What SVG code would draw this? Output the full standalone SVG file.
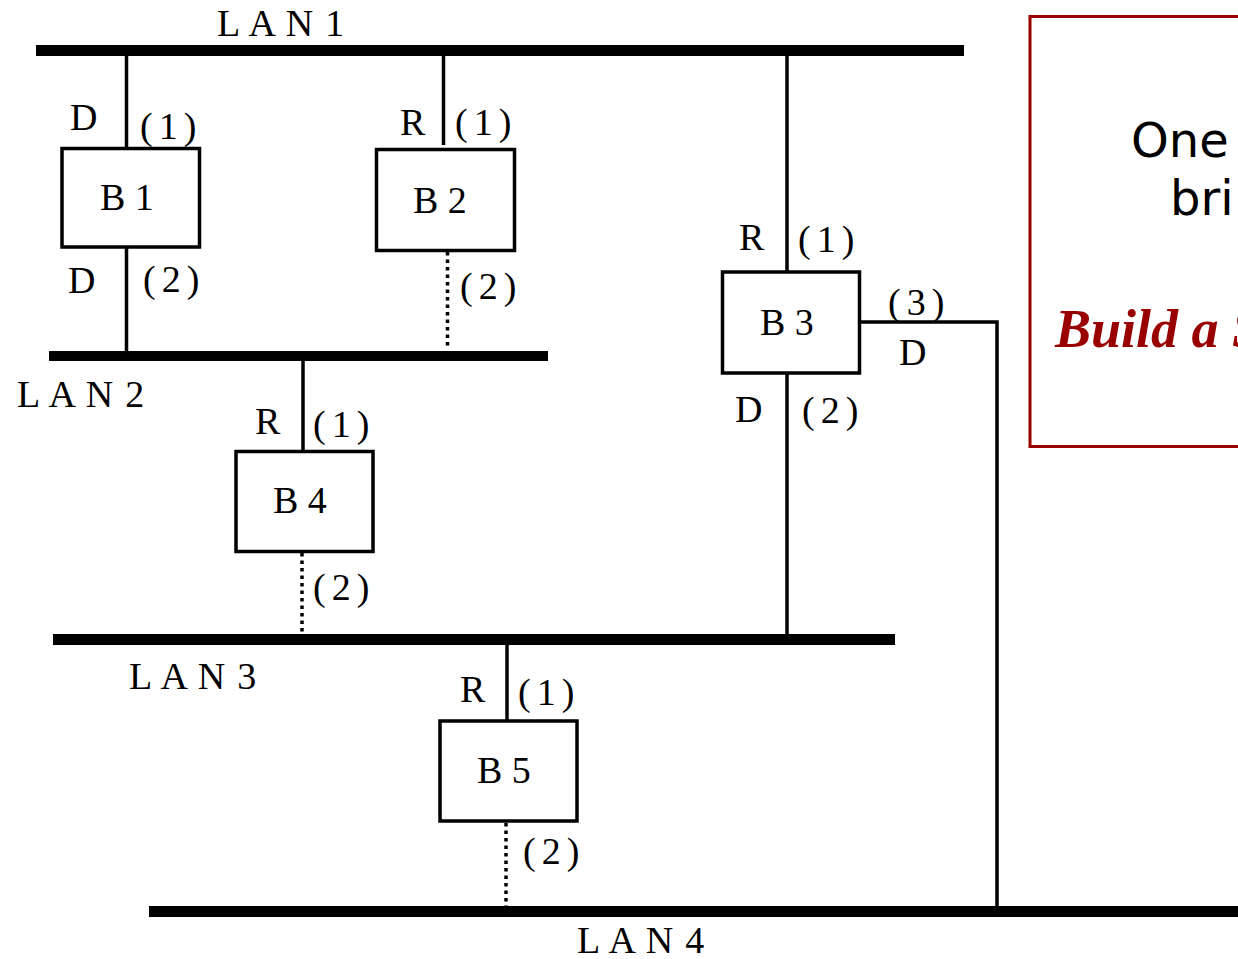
<svg xmlns="http://www.w3.org/2000/svg" width="1238" height="959" viewBox="0 0 1238 959">
<style>
.lan{fill:#000}
.box{fill:#fff;stroke:#000;stroke-width:3.5}
.ln{stroke:#000;stroke-width:3.5;fill:none}
.dot{stroke:#000;stroke-width:3.5;fill:none;stroke-dasharray:3.5 4}
.t{font-family:"Liberation Serif","Times New Roman",serif;font-size:38px;fill:#000}
.lt{font-family:"Liberation Serif","Times New Roman",serif;font-size:38px;fill:#000;letter-spacing:1.2px}
.p{font-family:"Liberation Serif","Times New Roman",serif;font-size:38px;fill:#000;letter-spacing:6px}
.note{font-family:"DejaVu Sans","Noto Sans",sans-serif;font-size:48px;fill:#000}
.red{font-family:"Liberation Serif","Times New Roman",serif;font-size:54px;font-weight:bold;font-style:italic;fill:#990000}
</style>
<rect width="1238" height="959" fill="#fff"/>
<g id="lans">
<rect id="lan1" class="lan" x="36" y="45" width="928" height="11"/>
<rect id="lan2" class="lan" x="49" y="351" width="499" height="10"/>
<rect id="lan3" class="lan" x="53" y="634" width="842" height="11"/>
<rect id="lan4" class="lan" x="149" y="906" width="1089" height="11"/>
<text class="lt" x="217" y="36">L A N 1</text>
<text class="lt" x="17" y="407">L A N 2</text>
<text class="lt" x="129" y="689">L A N 3</text>
<text class="lt" x="577" y="953">L A N 4</text>
</g>
<g id="connectors">
<line class="ln" x1="126.5" y1="56" x2="126.5" y2="148.5"/>
<line class="ln" x1="126.5" y1="247" x2="126.5" y2="351"/>
<line class="ln" x1="443.5" y1="56" x2="443.5" y2="145"/>
<line class="dot" x1="447.5" y1="252" x2="447.5" y2="346"/>
<line class="ln" x1="787" y1="56" x2="787" y2="272"/>
<line class="ln" x1="787" y1="373" x2="787" y2="634"/>
<polyline class="ln" points="859.5,322 997,322 997,906"/>
<line class="ln" x1="303" y1="361" x2="303" y2="451.5"/>
<line class="dot" x1="302" y1="553" x2="302" y2="634"/>
<line class="ln" x1="507" y1="645" x2="507" y2="721"/>
<line class="dot" x1="506" y1="823" x2="506" y2="906"/>
</g>
<g id="b1">
<rect class="box" x="62" y="148.5" width="137.5" height="98.5"/>
<text class="t" x="100" y="210">B 1</text>
<text class="t" x="70" y="130">D</text>
<text class="p" x="140" y="139">(1)</text>
<text class="t" x="68" y="293">D</text>
<text class="p" x="143" y="292">(2)</text>
</g>
<g id="b2">
<rect class="box" x="376.5" y="149.5" width="138" height="101"/>
<text class="t" x="413" y="213">B 2</text>
<text class="t" x="400" y="135">R</text>
<text class="p" x="455" y="135">(1)</text>
<text class="p" x="460" y="299">(2)</text>
</g>
<g id="b3">
<rect class="box" x="722.5" y="272" width="137" height="101"/>
<text class="t" x="760" y="335">B 3</text>
<text class="t" x="739" y="250">R</text>
<text class="p" x="798" y="252">(1)</text>
<text class="p" x="888" y="315">(3)</text>
<text class="t" x="899" y="365">D</text>
<text class="t" x="735" y="422">D</text>
<text class="p" x="802" y="423">(2)</text>
</g>
<g id="b4">
<rect class="box" x="236" y="451.5" width="137" height="100"/>
<text class="t" x="273" y="513">B 4</text>
<text class="t" x="255" y="434">R</text>
<text class="p" x="313" y="437">(1)</text>
<text class="p" x="313" y="600">(2)</text>
</g>
<g id="b5">
<rect class="box" x="440" y="721" width="137" height="100"/>
<text class="t" x="477" y="783">B 5</text>
<text class="t" x="460" y="702">R</text>
<text class="p" x="518" y="705">(1)</text>
<text class="p" x="523" y="864">(2)</text>
</g>
<g id="note">
<rect x="1030" y="16.5" width="300" height="430" fill="none" stroke="#990000" stroke-width="3"/>
<text class="note" x="1131" y="157">One</text>
<text class="note" x="1170" y="215">bri</text>
<text class="red" x="1055" y="347">Build a S</text>
</g>
</svg>
